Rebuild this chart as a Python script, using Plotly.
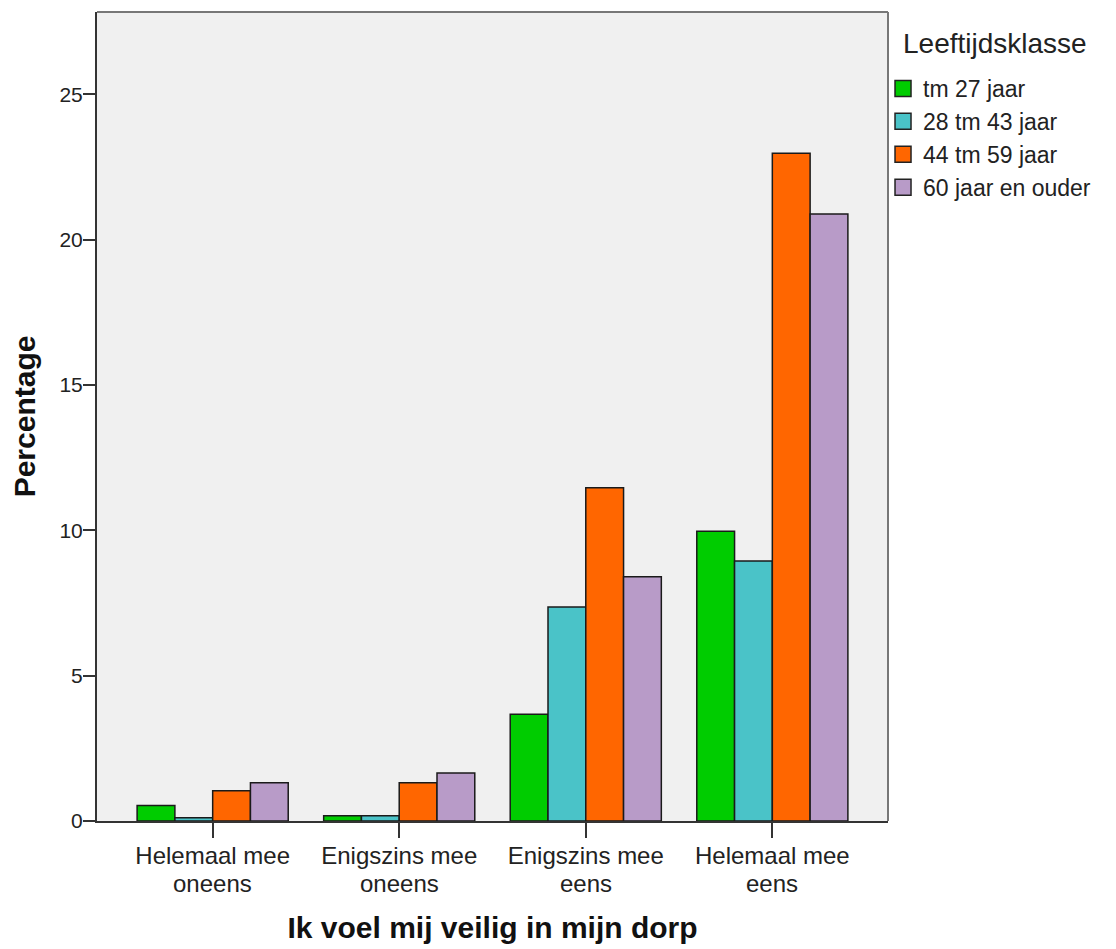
import plotly.graph_objects as go

categories = ["Helemaal mee oneens", "Enigszins mee oneens", "Enigszins mee eens", "Helemaal mee eens"]
tick_line1 = ["Helemaal mee", "Enigszins mee", "Enigszins mee", "Helemaal mee"]
tick_line2 = ["oneens", "oneens", "eens", "eens"]
series_names = ["tm 27 jaar", "28 tm 43 jaar", "44 tm 59 jaar", "60 jaar en ouder"]
tm27 = [0.53, 0.18, 3.67, 9.97]
t28_43 = [0.11, 0.18, 7.36, 8.94]
t44_59 = [1.04, 1.32, 11.46, 22.97]
t60plus = [1.32, 1.65, 8.40, 20.88]
colors = ["#00CC00", "#4AC3C8", "#FF6600", "#B89BC8"]
y_ticks = [0, 5, 10, 15, 20, 25]

FONT = "Liberation Sans, Arial, sans-serif"

fig = go.Figure()
for name, vals, col in zip(series_names, [tm27, t28_43, t44_59, t60plus], colors):
    fig.add_trace(go.Bar(
        x=categories, y=vals, name=name,
        marker=dict(color=col, line=dict(color="#1a1a1a", width=1.5)),
        showlegend=False,
    ))
    # legend proxy with a larger square swatch
    fig.add_trace(go.Scatter(
        x=[None], y=[None], mode="markers", name=name,
        marker=dict(symbol="square", size=20, color=col, line=dict(color="#222", width=1.5)),
        showlegend=True,
    ))

annotations = [
    dict(text=t, x=c, xref="x", y=0, yref="paper", yanchor="top", yshift=-47,
         showarrow=False, font=dict(size=24, color="#222", family=FONT))
    for c, t in zip(categories, tick_line2)
]
annotations.append(dict(
    text="Leeftijdsklasse", xref="paper", yref="paper", x=1.017, y=0.9605,
    xanchor="left", yanchor="middle", showarrow=False,
    font=dict(size=28, color="#222", family=FONT),
))

# page body has an 8px margin, so the figure is reduced by 8px and margins shifted
fig.update_layout(
    width=1108, height=941,
    margin=dict(l=89, r=228, t=4, b=128),
    paper_bgcolor="white", plot_bgcolor="#F0F0F0",
    barmode="group", bargap=0.19, bargroupgap=0,
    font=dict(family=FONT, color="#222"),
    legend=dict(
        x=0.9937, xanchor="left", y=0.932, yanchor="top",
        font=dict(size=23, color="#222"), itemsizing="trace", itemwidth=30,
        bgcolor="rgba(0,0,0,0)", tracegroupgap=0,
    ),
    xaxis=dict(
        type="category", categoryorder="array", categoryarray=categories,
        tickmode="array", tickvals=categories, ticktext=tick_line1,
        range=[-0.62, 3.62], showgrid=False, zeroline=False,
        showline=True, linecolor="#333", linewidth=2,
        ticks="outside", ticklen=15, tickwidth=2, tickcolor="#333",
        ticklabelstandoff=-3,
        tickfont=dict(size=24, color="#222", family=FONT),
        title=dict(text="<b>Ik voel mij veilig in mijn dorp</b>",
                   font=dict(size=30, color="#111", family=FONT), standoff=49),
    ),
    yaxis=dict(
        range=[0, 27.83], tickmode="array", tickvals=y_ticks,
        showgrid=False, zeroline=False,
        showline=True, linecolor="#333", linewidth=2,
        ticks="outside", ticklen=12, tickwidth=2, tickcolor="#333",
        ticklabelstandoff=-4,
        tickfont=dict(size=21, color="#222", family=FONT),
        title=dict(text="<b>Percentage</b>", font=dict(size=30, color="#111", family=FONT), standoff=16),
    ),
    shapes=[
        dict(type="line", xref="paper", yref="paper", x0=0, x1=1, y0=1, y1=1, line=dict(color="#777", width=2)),
        dict(type="line", xref="paper", yref="paper", x0=1, x1=1, y0=0, y1=1, line=dict(color="#777", width=2)),
    ],
    annotations=annotations,
)

fig.write_html("out.html")
